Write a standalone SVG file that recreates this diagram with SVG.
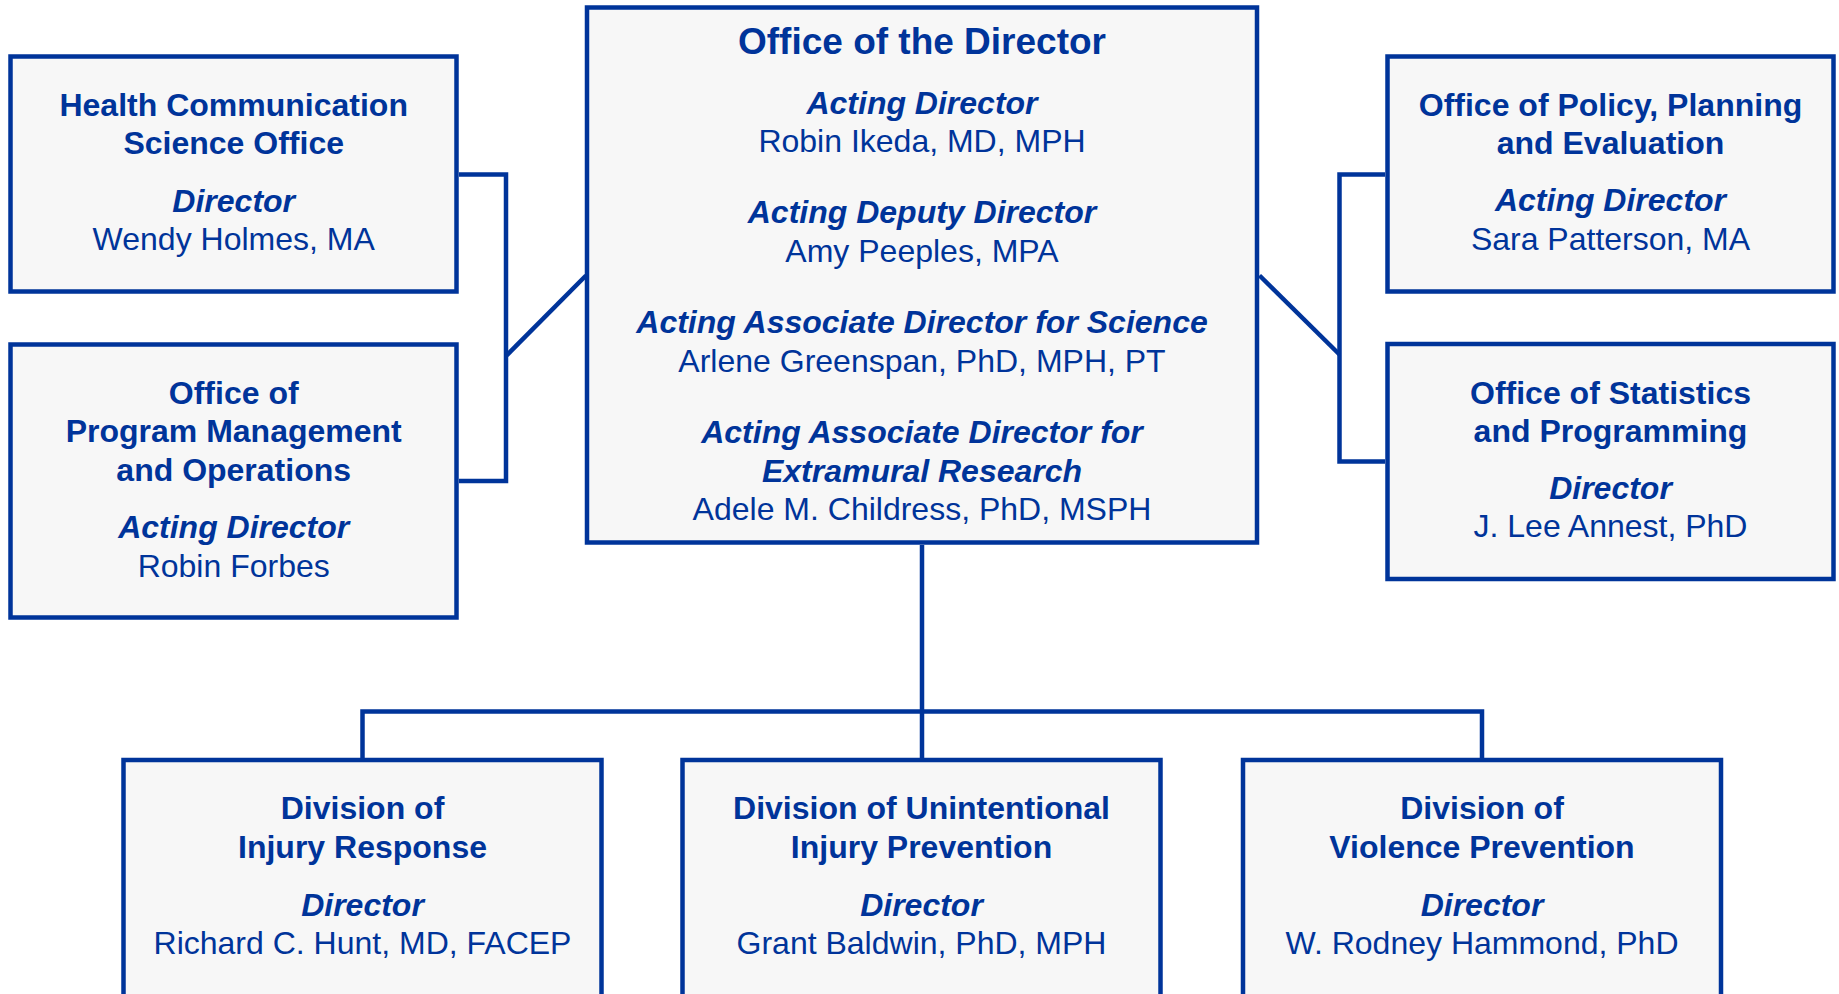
<svg xmlns="http://www.w3.org/2000/svg" width="1839" height="994" viewBox="0 0 1839 994">
<style>
.box{fill:#f7f7f7;stroke:#00349a;stroke-width:4.5}
.con{fill:none;stroke:#00349a;stroke-width:4.5}
text{font-family:"Liberation Sans",Arial,sans-serif;font-size:32px;fill:#00349a;text-anchor:middle}
.b{font-weight:bold}
.bi{font-weight:bold;font-style:italic}
.t{font-weight:bold;font-size:37px}
</style>
<rect width="1839" height="994" fill="#ffffff"/>
<g id="connectors">
<path class="con" d="M459 174.5 H506 V481 H459"/>
<path class="con" d="M506 356 L586 275.5"/>
<path class="con" d="M1385 174.5 H1339.5 V461.5 H1385"/>
<path class="con" d="M1259.5 275.5 L1339.5 354.5"/>
<path class="con" d="M922 545 V758"/>
<path class="con" d="M362.5 758 V711.5 H1482 V758"/>
</g>
<g id="director">
<rect class="box" x="587" y="7.5" width="670" height="535"/>
<text class="t" x="922" y="53.5">Office of the Director</text>
<text class="bi" x="922" y="113.5">Acting Director</text>
<text x="922" y="152">Robin Ikeda, MD, MPH</text>
<text class="bi" x="922" y="223">Acting Deputy Director</text>
<text x="922" y="262">Amy Peeples, MPA</text>
<text class="bi" x="922" y="333">Acting Associate Director for Science</text>
<text x="922" y="372">Arlene Greenspan, PhD, MPH, PT</text>
<text class="bi" x="922" y="443">Acting Associate Director for</text>
<text class="bi" x="922" y="482">Extramural Research</text>
<text x="922" y="520">Adele M. Childress, PhD, MSPH</text>
</g>
<g id="health-communication">
<rect class="box" x="10.5" y="56.5" width="446" height="235"/>
<text class="b" x="233.7" y="116">Health Communication</text>
<text class="b" x="233.7" y="154">Science Office</text>
<text class="bi" x="233.7" y="211.5">Director</text>
<text x="233.7" y="249.5">Wendy Holmes, MA</text>
</g>
<g id="program-management">
<rect class="box" x="10.5" y="344.5" width="446" height="273"/>
<text class="b" x="233.7" y="403.5">Office of</text>
<text class="b" x="233.7" y="442">Program Management</text>
<text class="b" x="233.7" y="480.5">and Operations</text>
<text class="bi" x="233.7" y="537.5">Acting Director</text>
<text x="233.7" y="576.5">Robin Forbes</text>
</g>
<g id="policy-planning">
<rect class="box" x="1387.5" y="56.5" width="446" height="235"/>
<text class="b" x="1610.5" y="115.7">Office of Policy, Planning</text>
<text class="b" x="1610.5" y="153.6">and Evaluation</text>
<text class="bi" x="1610.5" y="211.4">Acting Director</text>
<text x="1610.5" y="249.5">Sara Patterson, MA</text>
</g>
<g id="statistics-programming">
<rect class="box" x="1387.5" y="344" width="446" height="235"/>
<text class="b" x="1610.5" y="404.3">Office of Statistics</text>
<text class="b" x="1610.5" y="441.8">and Programming</text>
<text class="bi" x="1610.5" y="499">Director</text>
<text x="1610.5" y="537">J. Lee Annest, PhD</text>
</g>
<g id="injury-response">
<rect class="box" x="123.5" y="760" width="478" height="250"/>
<text class="b" x="362.5" y="819.3">Division of</text>
<text class="b" x="362.5" y="858.3">Injury Response</text>
<text class="bi" x="362.5" y="915.5">Director</text>
<text x="362.5" y="954">Richard C. Hunt, MD, FACEP</text>
</g>
<g id="unintentional-injury">
<rect class="box" x="682.5" y="760" width="478" height="250"/>
<text class="b" x="921.5" y="819.3">Division of Unintentional</text>
<text class="b" x="921.5" y="858.3">Injury Prevention</text>
<text class="bi" x="921.5" y="915.5">Director</text>
<text x="921.5" y="954">Grant Baldwin, PhD, MPH</text>
</g>
<g id="violence-prevention">
<rect class="box" x="1243" y="760" width="478" height="250"/>
<text class="b" x="1482" y="819.3">Division of</text>
<text class="b" x="1482" y="858.3">Violence Prevention</text>
<text class="bi" x="1482" y="915.5">Director</text>
<text x="1482" y="954">W. Rodney Hammond, PhD</text>
</g>
</svg>
